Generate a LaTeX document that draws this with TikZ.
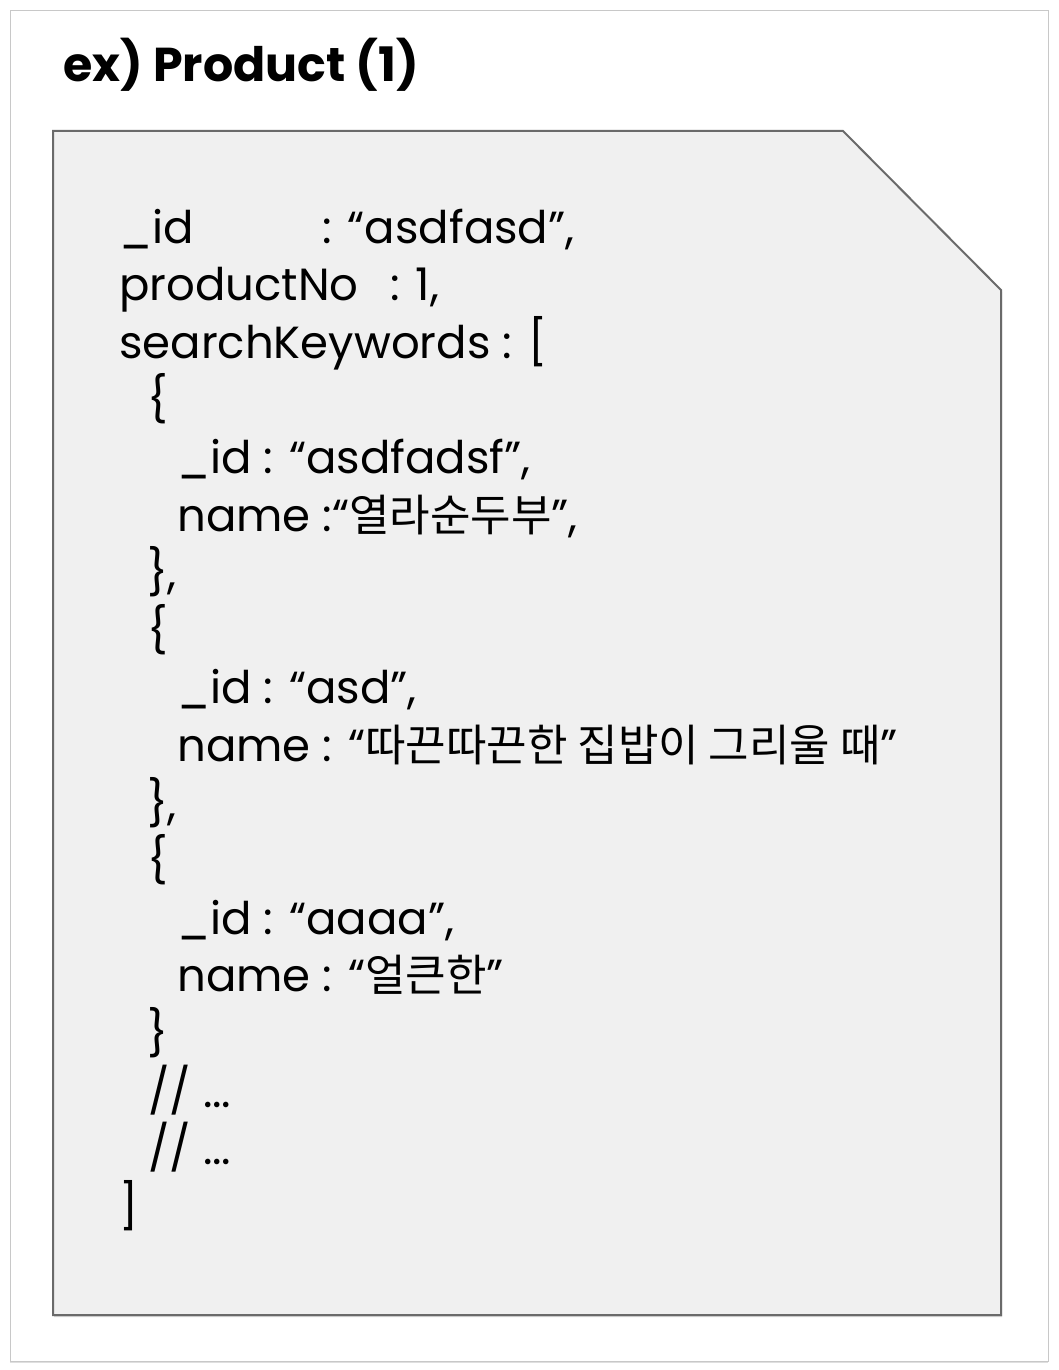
\documentclass[tikz,border=0pt]{standalone}
\usepackage{fontspec}
\setmainfont{Poppins}
\newfontfamily\krfont{Noto Sans CJK KR}
\usepackage{tikz}
\usetikzlibrary{shadows}

\definecolor{framegray}{HTML}{C8C8C8}
\definecolor{cardfill}{HTML}{F0F0F0}
\definecolor{cardline}{HTML}{6A6A6A}

\newcommand{\kr}[1]{{\krfont\fontsize{44}{44}\selectfont #1}}

\tikzset{
	codeline/.style={anchor=base west, inner sep=0pt, font=\fontsize{45}{45}\selectfont},
	titletext/.style={anchor=base west, inner sep=0pt, font=\fontsize{47.5}{47.5}\selectfont\bfseries}
}

\begin{document}
\begin{tikzpicture}[x=1pt, y=-1pt]
					% Frame and card:
					\useasboundingbox (0,0) rectangle (1058,1370);
					\draw[framegray, fill=white, drop shadow={shadow xshift=0pt, shadow yshift=-2pt, opacity=0.25}] (10,10) rectangle (1048,1361);
					\node[titletext](T) at (63,82){ex) Product (1)};
					\draw[cardline, line width=2pt, fill=cardfill, drop shadow={shadow xshift=1pt, shadow yshift=-2pt, opacity=0.3}] (53,131) -- (843,131) -- (1001,290) -- (1001,1315) -- (53,1315) -- cycle;
					% Text lines:
					\node[codeline](L1) at (119,243){\_id};
					\node[codeline](L1v) at (322,243){: “asdfasd”,};
					\node[codeline](L2) at (119,300.6){productNo};
					\node[codeline](L2v) at (390,300.6){: 1,};
					\node[codeline](L3) at (119,358.2){searchKeywords : [};
					\node[codeline](L4) at (147,415.8){\{};
					\node[codeline](L5) at (177,473.4){\_id : “asdfadsf”,};
					\node[codeline](L6) at (177,531){name :“\kr{열라순두부}",};
					\node[codeline](L7) at (147,588.6){\},};
					\node[codeline](L8) at (147,646.2){\{};
					\node[codeline](L9) at (177,703.8){\_id : “asd”,};
					\node[codeline](L10) at (177,761.4){name : “\kr{따끈따끈한 집밥이 그리울 때}"};
					\node[codeline](L11) at (147,819){\},};
					\node[codeline](L12) at (147,876.6){\{};
					\node[codeline](L13) at (177,934.2){\_id : “aaaa”,};
					\node[codeline](L14) at (177,991.8){name : “\kr{얼큰한}"};
					\node[codeline](L15) at (147,1049.4){\}};
					\node[codeline](L16) at (148,1107){// ...};
					\node[codeline](L17) at (148,1164.6){// ...};
					\node[codeline](L18) at (119,1222.2){]};
				\end{tikzpicture}
\end{document}
